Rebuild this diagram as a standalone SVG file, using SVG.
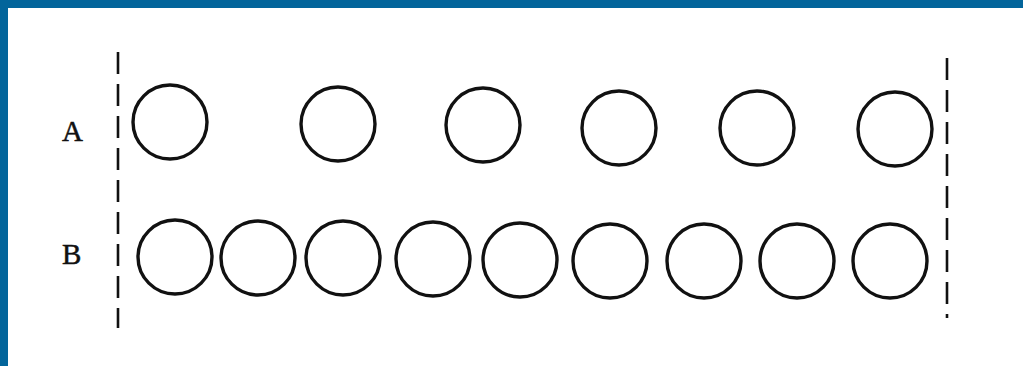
<svg xmlns="http://www.w3.org/2000/svg" width="1023" height="366" viewBox="0 0 1023 366">
<style>
.c{fill:none;stroke:#111;stroke-width:3.4}
.d{stroke:#111;stroke-width:2.6;stroke-dasharray:22 10;fill:none}
.t{font-family:"Liberation Serif",serif;font-size:29px;fill:#111;stroke:#111;stroke-width:0.5}
</style>
<rect width="1023" height="366" fill="#fff"/>
<rect x="0" y="0" width="1023" height="8" fill="#03659b"/>
<rect x="0" y="0" width="8" height="366" fill="#03659b"/>
<g id="connectors">
<line class="d" x1="118" y1="52" x2="118" y2="328"/>
<line class="d" x1="947" y1="58" x2="947" y2="318"/>
</g>
<g id="labelA"><text class="t" x="62" y="141">A</text></g>
<g id="labelB"><text class="t" x="62" y="264">B</text></g>
<g id="rowA">
<circle id="a1" class="c" cx="170" cy="122" r="37"/>
<circle id="a2" class="c" cx="338" cy="124" r="37"/>
<circle id="a3" class="c" cx="483" cy="125" r="37"/>
<circle id="a4" class="c" cx="619" cy="128" r="37"/>
<circle id="a5" class="c" cx="757" cy="128" r="37"/>
<circle id="a6" class="c" cx="895" cy="129" r="37"/>
</g>
<g id="rowB">
<circle id="b1" class="c" cx="175" cy="257" r="37"/>
<circle id="b2" class="c" cx="258" cy="258" r="37"/>
<circle id="b3" class="c" cx="343" cy="258" r="37"/>
<circle id="b4" class="c" cx="433" cy="259" r="37"/>
<circle id="b5" class="c" cx="520" cy="260" r="37"/>
<circle id="b6" class="c" cx="610" cy="261" r="37"/>
<circle id="b7" class="c" cx="704" cy="261" r="37"/>
<circle id="b8" class="c" cx="797" cy="261" r="37"/>
<circle id="b9" class="c" cx="890" cy="261" r="37"/>
</g>
</svg>
